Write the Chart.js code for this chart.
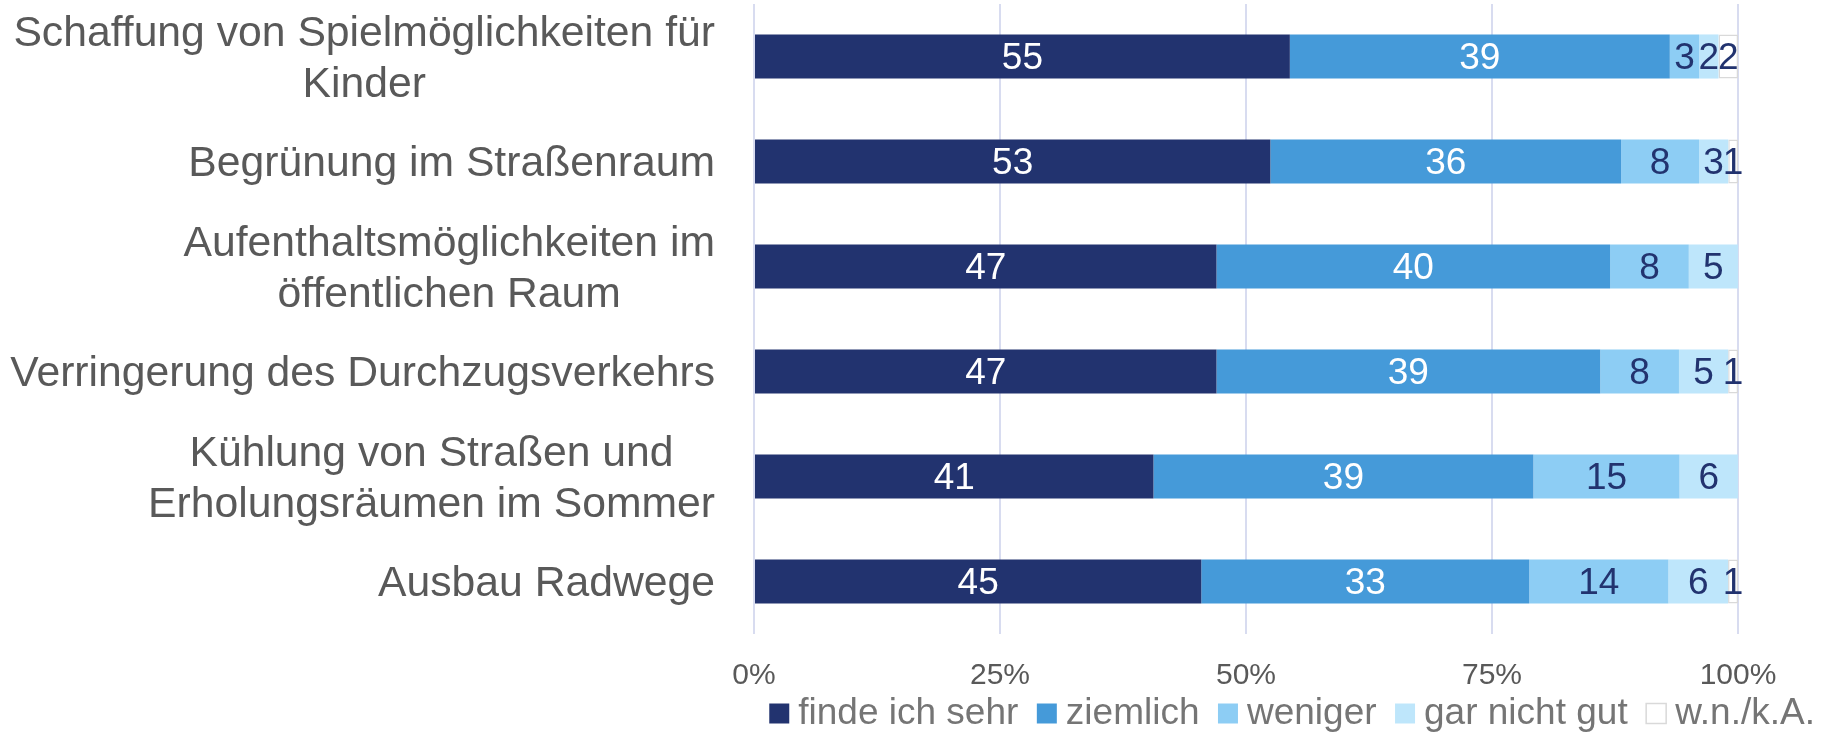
<!DOCTYPE html>
<html lang="de">
<head>
<meta charset="utf-8">
<title>Bewertung der Maßnahmen</title>
<script src="https://cdn.jsdelivr.net/npm/chart.js@4/dist/chart.umd.min.js"></script>
<style>
    html, body { margin: 0; padding: 0; background: #fff; }
    canvas { display: block; }
</style>
</head>
<body>
<canvas id="chart" width="1823" height="734"></canvas>
<script>
// ============================================
// DATA (percent, as printed in the bars)
// ============================================
const categories = [
    ['Schaffung von Spielmöglichkeiten für', 'Kinder'],
    ['Begrünung im Straßenraum'],
    ['Aufenthaltsmöglichkeiten im', 'öffentlichen Raum'],
    ['Verringerung des Durchzugsverkehrs'],
    ['Kühlung von Straßen und', 'Erholungsräumen im Sommer'],
    ['Ausbau Radwege']
];
const sehr     = [55, 53, 47, 47, 41, 45];
const ziemlich = [39, 36, 40, 39, 39, 33];
const weniger  = [3, 8, 8, 8, 15, 14];
const garNicht = [2, 3, 5, 5, 6, 6];
const wnka     = [2, 1, 0, 1, 0, 1];
const seriesNames = ['finde ich sehr', 'ziemlich', 'weniger', 'gar nicht gut', 'w.n./k.A.'];
const xTicks = [0, 25, 50, 75, 100];

// ============================================
// STYLE
// ============================================
const FONT = '"Liberation Sans", Arial, sans-serif';
const NAVY = '#22336f';
const colors = [NAVY, '#459ad9', '#8dcdf4', '#bee6fb', '#ffffff'];
const labelColors = ['#ffffff', '#ffffff', NAVY, NAVY, NAVY];

Chart.defaults.font.family = FONT;

// Excel "100% stacked": each row is scaled to its own total
const series = [sehr, ziemlich, weniger, garNicht, wnka];
const rowTotals = categories.map((c, i) => series.reduce((s, arr) => s + arr[i], 0));
const share = arr => arr.map((v, i) => v / rowTotals[i] * 100);

// category labels: lines centred on each other, block right-aligned
const categoryLabels = {
    id: 'categoryLabels',
    afterDraw(chart) {
        const { ctx, chartArea, scales: { y } } = chart;
        const right = chartArea.left - 39;
        ctx.save();
        ctx.font = '42.7px ' + FONT;
        ctx.fillStyle = '#595959';
        ctx.textAlign = 'center';
        ctx.textBaseline = 'middle';
        categories.forEach((lines, i) => {
            const yc = y.getPixelForValue(i) + 3;
            const w = Math.max(...lines.map(l => ctx.measureText(l).width));
            lines.forEach((line, j) => {
                ctx.fillText(line, right - w / 2, yc + (j - (lines.length - 1) / 2) * 51);
            });
        });
        ctx.restore();
    }
};

// value labels in the middle of each segment
const valueLabels = {
    id: 'valueLabels',
    afterDatasetsDraw(chart) {
        const { ctx } = chart;
        ctx.save();
        ctx.font = '37px ' + FONT;
        ctx.textAlign = 'center';
        ctx.textBaseline = 'middle';
        series.forEach((arr, di) => {
            ctx.fillStyle = labelColors[di];
            chart.getDatasetMeta(di).data.forEach((bar, i) => {
                if (!arr[i]) return;
                const { x, y, base } = bar.getProps(['x', 'y', 'base'], true);
                ctx.fillText(String(arr[i]), (x + base) / 2, y + 2);
            });
        });
        ctx.restore();
    }
};

new Chart(document.getElementById('chart'), {
    type: 'bar',
    data: {
        labels: categories.map(c => c.join(' ')),
        datasets: series.map((arr, di) => ({
            label: seriesNames[di],
            data: share(arr),
            backgroundColor: colors[di],
            borderColor: di === 4 ? '#d9d9d9' : colors[di],
            borderWidth: di === 4 ? 1.5 : 0,
            borderSkipped: false,
            barPercentage: 0.42,
            categoryPercentage: 1
        }))
    },
    options: {
        indexAxis: 'y',
        responsive: false,
        animation: false,
        events: [],
        layout: { padding: { top: 4, right: -20, bottom: 0, left: 0 } },
        scales: {
            x: {
                stacked: true,
                min: 0,
                max: 100,
                afterBuildTicks(s) { s.ticks = xTicks.map(v => ({ value: v })); },
                afterFit(s) { s.height = 33; s.paddingRight = 85; },
                grid: { color: '#d8dcf0', lineWidth: 2, drawTicks: false },
                border: { display: false },
                ticks: {
                    // mirrored so the labels are not clipped to the thin axis box
                    mirror: true,
                    padding: -60,
                    color: '#595959',
                    font: { size: 30 },
                    callback: v => v + '%'
                }
            },
            y: {
                stacked: true,
                afterFit(s) { s.width = 754; },
                grid: { display: false },
                border: { display: false },
                ticks: { display: false }
            }
        },
        plugins: {
            tooltip: { enabled: false },
            legend: {
                position: 'bottom',
                align: 'end',
                maxHeight: 67,
                labels: {
                    usePointStyle: true,
                    pointStyle: 'rect',
                    boxWidth: 1,
                    boxHeight: 20,
                    padding: 28,
                    color: '#757575',
                    font: { size: 37 }
                }
            }
        }
    },
    plugins: [categoryLabels, valueLabels]
});
</script>
</body>
</html>
